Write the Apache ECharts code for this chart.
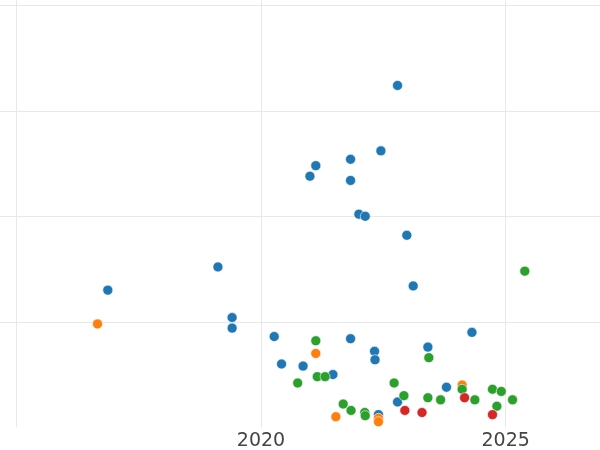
<!DOCTYPE html>
<html>
<head>
<meta charset="utf-8">
<script src="https://cdn.jsdelivr.net/npm/echarts@6/dist/echarts.min.js"></script>
<style>
    html, body { margin: 0; padding: 0; background: #fff; }
    #chart { width: 600px; height: 450px; }
</style>
</head>
<body>
<div id="chart"></div>
<script>
// 各组数据: [年份, 数值]
var blueData = [
    [2016.87, 1.30], [2019.12, 1.52], [2019.41, 1.04], [2019.41, 0.94],
    [2020.27, 0.86], [2020.42, 0.60], [2020.86, 0.58], [2021.00, 2.38],
    [2021.12, 2.48], [2021.47, 0.50], [2021.83, 2.54], [2021.83, 2.34],
    [2021.83, 0.84], [2022.00, 2.02], [2022.13, 2.00], [2022.32, 0.72],
    [2022.33, 0.64], [2022.40, 0.12], [2022.45, 2.62], [2022.79, 3.24],
    [2022.79, 0.24], [2022.98, 1.82], [2023.11, 1.34], [2023.41, 0.76],
    [2023.79, 0.38], [2024.31, 0.90]
];
var orangeData = [
    [2016.66, 0.98], [2021.12, 0.70], [2021.53, 0.10], [2022.40, 0.085],
    [2022.40, 0.053], [2024.11, 0.40]
];
var greenData = [
    [2020.75, 0.42], [2021.12, 0.82], [2021.15, 0.48], [2021.31, 0.48],
    [2021.68, 0.22], [2021.84, 0.16], [2022.12, 0.14], [2022.13, 0.11],
    [2022.72, 0.42], [2022.92, 0.30], [2023.41, 0.28], [2023.43, 0.66],
    [2023.67, 0.26], [2024.11, 0.36], [2024.37, 0.26], [2024.73, 0.36],
    [2024.82, 0.20], [2024.91, 0.34], [2025.14, 0.26], [2025.39, 1.48]
];
var redData = [
    [2022.94, 0.16], [2023.29, 0.14], [2024.16, 0.28], [2024.73, 0.12]
];

// 刻度
var xGridYears = [2015, 2020, 2025];
var xLabelYears = [2020, 2025];
var yGridValues = [1, 2, 3, 4];

var colors = ['#1f77b4', '#ff7f0e', '#2ca02c', '#d62728'];

function makeSeries (data, color) {
    return {
        type: 'scatter',
        data: data,
        symbolSize: 10,
        itemStyle: {
            color: color,
            opacity: 1,
            borderColor: '#fff',
            borderWidth: 0.6
        },
        emphasis: { disabled: true }
    };
}

function initChart () {
    var chart = echarts.init(document.getElementById('chart'));
    var option = {
        animation: false,
        backgroundColor: '#fff',
        grid: {
            left: 0,
            right: 0,
            top: 0,
            bottom: 22.7,
            containLabel: false,
            outerBoundsMode: 'none'
        },
        xAxis: {
            type: 'value',
            min: 2014.667,
            max: 2026.927,
            axisLine: { show: false },
            axisTick: { show: false, customValues: xGridYears },
            axisLabel: {
                customValues: xLabelYears,
                formatter: function (v) { return String(v); },
                fontFamily: 'DejaVu Sans',
                fontSize: 19,
                color: '#444',
                margin: 4
            },
            splitLine: {
                show: true,
                lineStyle: { color: '#e8e8e8', width: 1 }
            }
        },
        yAxis: {
            type: 'value',
            min: 0,
            max: 4.05,
            axisLine: { show: false },
            axisTick: { show: false, customValues: yGridValues },
            axisLabel: { show: false },
            splitLine: {
                show: true,
                lineStyle: { color: '#e8e8e8', width: 1 }
            }
        },
        series: [
            makeSeries(blueData, colors[0]),
            makeSeries(orangeData, colors[1]),
            makeSeries(greenData, colors[2]),
            makeSeries(redData, colors[3])
        ]
    };
    chart.setOption(option);
    return chart;
}

var chart = initChart();
window.onresize = function () {
    chart.resize();
};
</script>
</body>
</html>
